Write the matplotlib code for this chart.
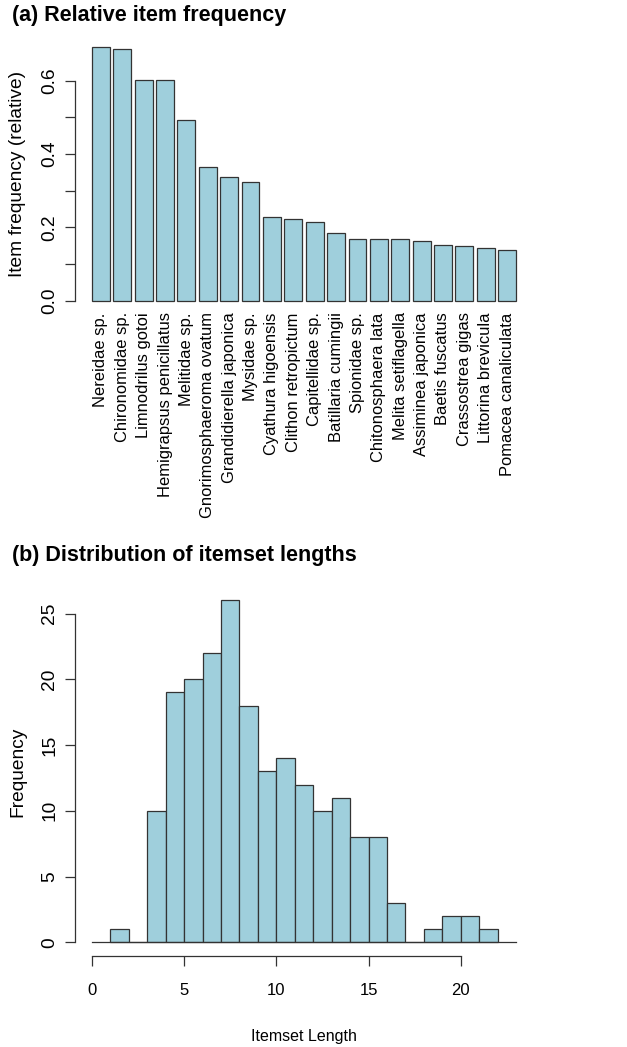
import matplotlib
matplotlib.use("Agg")
import matplotlib.pyplot as plt
import numpy as np

plt.rcParams['font.family'] = ['Liberation Sans', 'DejaVu Sans']

# ---- data: panel (a) ----
items = ["Nereidae sp.", "Chironomidae sp.", "Limnodrilus gotoi", "Hemigrapsus penicillatus",
         "Melitidae sp.", "Gnorimosphaeroma ovatum", "Grandidierella japonica", "Mysidae sp.",
         "Cyathura higoensis", "Clithon retropictum", "Capitellidae sp.", "Batillaria cumingii",
         "Spionidae sp.", "Chitonosphaera lata", "Melita setiflagella", "Assiminea japonica",
         "Baetis fuscatus", "Crassostrea gigas", "Littorina brevicula", "Pomacea canaliculata"]
rel_freq = [0.693, 0.686, 0.602, 0.602, 0.493, 0.364, 0.338, 0.324, 0.227, 0.224,
            0.214, 0.184, 0.168, 0.168, 0.168, 0.164, 0.153, 0.149, 0.144, 0.139]
a_yticks = [0.0, 0.1, 0.2, 0.3, 0.4, 0.5, 0.6]
a_yticklabels = ["0.0", "", "0.2", "", "0.4", "", "0.6"]

# ---- data: panel (b) ----
bin_edges = list(range(1, 23))
bin_counts = [1, 0, 10, 19, 20, 22, 26, 18, 13, 14, 12, 10, 11, 8, 8, 3, 0, 1, 2, 2, 1]
b_xticks = [0, 5, 10, 15, 20]
b_yticks = [0, 5, 10, 15, 20, 25]

bar_color = "#9fcfdc"
edge = "#333333"
W, H = 627, 1047

fig = plt.figure(figsize=(W / 100, H / 100), dpi=100)

# ---------- panel (a) ----------
ax1 = fig.add_axes([75 / W, 1 - 310.9 / H, 458 / W, (310.9 - 36.4) / H])
n = len(items)
pos = [0.7 + 1.2 * i for i in range(n)]
ax1.bar(pos, rel_freq, width=1.0, color=bar_color, edgecolor=edge, linewidth=0.9)
ax1.set_xlim(-0.752, 24.952)
ax1.set_ylim(-0.0277, 0.7207)
for s in ["top", "right", "bottom"]:
    ax1.spines[s].set_visible(False)
ax1.spines["left"].set_bounds(0, 0.6)
ax1.spines["left"].set_color(edge)
ax1.spines["left"].set_linewidth(0.9)
ax1.set_yticks(a_yticks, a_yticklabels, rotation=90, va="center", fontsize=13.8)
ax1.tick_params(axis="y", length=7.2, width=0.9, color=edge, pad=5)
ax1.set_xticks(pos, items, rotation=90, fontsize=11.9, va="top", ha="center")
ax1.tick_params(axis="x", length=0, pad=1)
ax1.set_ylabel("Item frequency (relative)", fontsize=13.8)
ax1.yaxis.label.set_va("center")
ax1.yaxis.set_label_coords((18 - 75) / 458, 0.5)

# ---------- panel (b) ----------
ax2 = fig.add_axes([75 / W, 1 - 956 / H, 458 / W, (956 - 586.7) / H])
ax2.bar(bin_edges[:-1], bin_counts, width=1.0, align="edge",
        color=bar_color, edgecolor=edge, linewidth=0.9)
ax2.plot([0, 23], [0, 0], color=edge, linewidth=0.9)
ax2.set_xlim(-0.92, 23.92)
ax2.set_ylim(-1.04, 27.04)
for s in ["top", "right"]:
    ax2.spines[s].set_visible(False)
ax2.spines["left"].set_bounds(0, 25)
ax2.spines["bottom"].set_bounds(0, 20)
for s in ["left", "bottom"]:
    ax2.spines[s].set_color(edge)
    ax2.spines[s].set_linewidth(0.9)
ax2.set_yticks(b_yticks, [str(v) for v in b_yticks], rotation=90, va="center", fontsize=13.8)
ax2.tick_params(axis="y", length=7.2, width=0.9, color=edge, pad=5)
ax2.set_xticks(b_xticks, [str(v) for v in b_xticks], fontsize=12)
ax2.tick_params(axis="x", length=7.2, width=0.9, color=edge, pad=12)
ax2.set_ylabel("Frequency", fontsize=13.8)
ax2.yaxis.label.set_va("center")
ax2.yaxis.set_label_coords((18 - 75) / 458, 0.5)
ax2.set_xlabel("Itemset Length", fontsize=11.5)
ax2.xaxis.label.set_va("center")
ax2.xaxis.set_label_coords(0.5, -80.7 / 369.3)

# ---------- titles ----------
fig.text(12 / W, 1 - 16 / H, "(a) Relative item frequency", fontsize=15.5,
         fontweight="bold", ha="left", va="center")
fig.text(12 / W, 1 - 556 / H, "(b) Distribution of itemset lengths", fontsize=15.5,
         fontweight="bold", ha="left", va="center")

fig.savefig("out.png", dpi=100)
